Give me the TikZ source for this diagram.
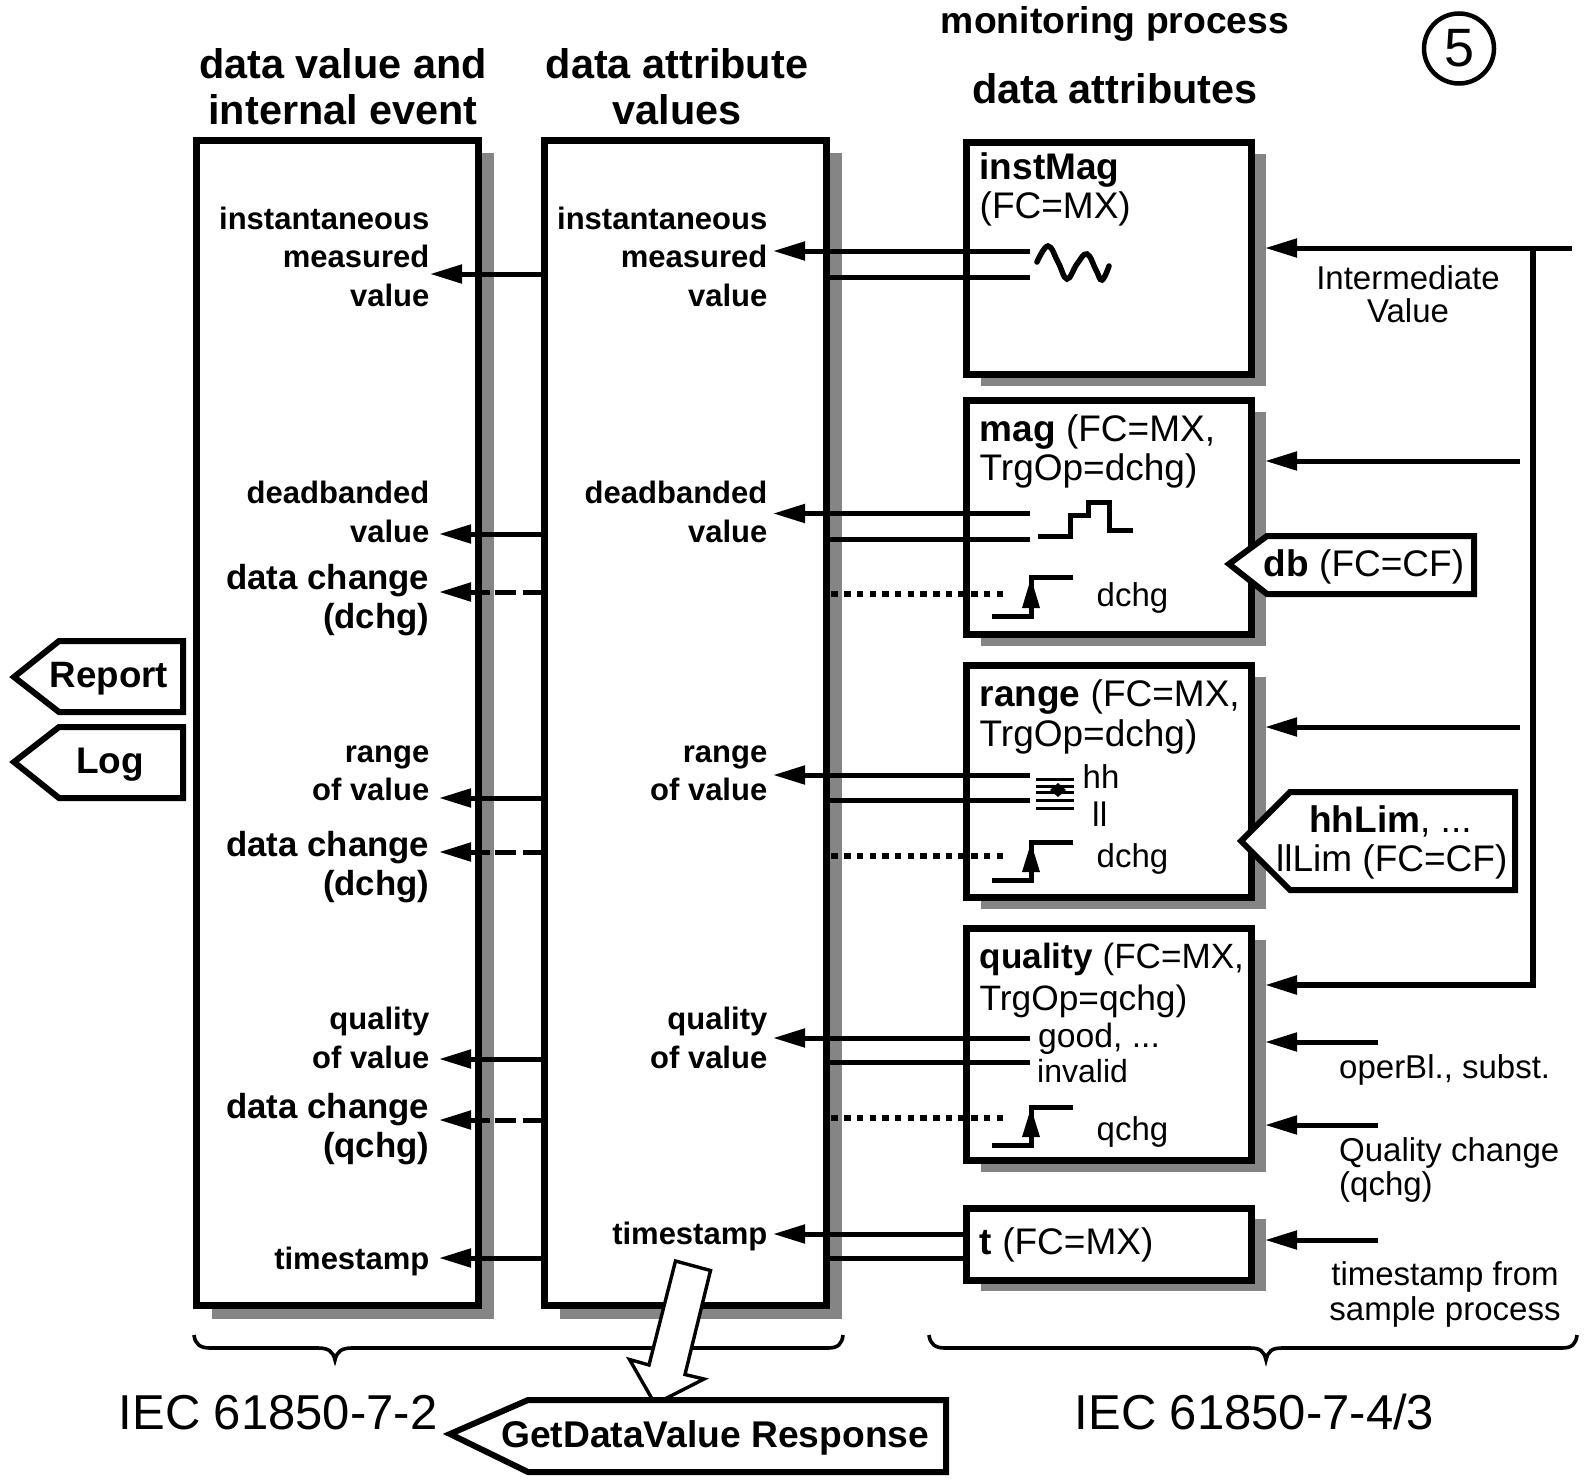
\documentclass[tikz,border=0pt]{standalone}
\usepackage{fontspec}
\setmainfont{Liberation Sans}
\usetikzlibrary{arrows.meta,calc}
\newcommand\fsz[1]{\fontsize{#1}{#1}\selectfont}
\tikzset{
  x=1pt,y=-1pt,
  outbox/.style={draw=black,fill=white,line width=7pt,rectangle,inner sep=0pt,outer sep=0pt},
  shade box/.style={fill=black!48},
  wire/.style={line width=5pt},
  arr/.style={wire,-{Triangle[length=32pt,width=18pt]}},
  dash arr/.style={arr,dash pattern=on 21pt off 7pt on 21pt off 5pt on 100pt off 10pt},
  dots/.style={line width=6.5pt,dash pattern=on 6.5pt off 6.2pt},
  tag/.style={draw=black,fill=white,line width=6pt,miter limit=3},
  lab/.style={anchor=base east,inner sep=0pt,font=\bfseries\fsz{31}},
  labb/.style={anchor=base east,inner sep=0pt,font=\bfseries\fsz{34.8}},
  head/.style={anchor=base,inner sep=0pt,font=\bfseries\fsz{41.4}},
  txt/.style={anchor=base west,inner sep=0pt,font=\fsz{37}},
  small/.style={anchor=base west,inner sep=0pt,font=\fsz{33}},
  smallc/.style={anchor=base,inner sep=0pt,font=\fsz{33}},
  sym/.style={line width=5pt},
  brace/.style={line width=3.6pt}
}
\newcommand\bx[7]{% name,x1,y1,x2,y2,dx,dy
  \fill[shade box] ({#2+#6},{#3+#7}) rectangle ({#4+#6},{#5+#7});
  \node[outbox,minimum width={(#4-#2)*1pt},minimum height={(#5-#3)*1pt}] (#1) at ({(#2+#4)/2},{(#3+#5)/2}) {};
}
\newcommand\stepsym[3]{% name, bottom y, top y
  \coordinate (#1a) at (992,#2);
  \coordinate (#1b) at (1031,#2);
  \coordinate (#1c) at (1031,#3);
  \coordinate (#1d) at (1073,#3);
  \draw[sym] (#1a) -- (#1b) -- (#1c) -- (#1d);
  \fill ($(#1c)+(0,1)$) -- ($(#1b)+(9,-8)$) -- ($(#1b)+(-9,-8)$) -- cycle;
}
\begin{document}
\begin{tikzpicture}
\useasboundingbox (0,0) rectangle (1585,1483);
\fill[white] (0,0) rectangle (1585,1483);

% boxes
\bx{colA}{196}{140}{478}{1305.5}{16}{13}
\bx{colB}{544}{140}{826}{1305.5}{16}{13}
\bx{bInst}{966}{142}{1251}{374}{15}{12}
\bx{bMag}{966}{400}{1251}{634}{15}{12}
\bx{bRange}{966}{665}{1251}{897}{15}{12}
\bx{bQual}{966}{928}{1251}{1160}{15}{12}
\bx{bT}{966}{1208}{1251}{1280}{15}{11}

% column headings
\node[head] (h1) at (343,78.5) {data value and};
\node[head] (h2) at (343,124) {internal event};
\node[head] (h3) at (677,78.5) {data attribute};
\node[head] (h4) at (677,124) {values};
\node[head,font=\bfseries\fsz{37.3}] (h5) at (1115,33) {monitoring process};
\node[head] (h6) at (1115,103) {data attributes};
\node[draw,circle,line width=4.5pt,minimum size=70pt,inner sep=0pt,font=\fsz{54}] (five) at (1459,48.5) {5};

% column labels
\node[lab] (a1) at (429.5,229) {instantaneous};
\node[lab] (a2) at (429.5,267) {measured};
\node[lab] (a3) at (429.5,306) {value};
\node[lab] (a4) at (429.5,503.5) {deadbanded};
\node[lab] (a5) at (429.5,542) {value};
\node[labb] (a6) at (429.5,589) {data change};
\node[labb] (a7) at (429.5,628) {(dchg)};
\node[lab] (a8) at (429.5,762) {range};
\node[lab] (a9) at (429.5,800.5) {of value};
\node[labb] (a10) at (429.5,856) {data change};
\node[labb] (a11) at (429.5,895.5) {(dchg)};
\node[lab] (a12) at (429.5,1029) {quality};
\node[lab] (a13) at (429.5,1068) {of value};
\node[labb] (a14) at (429.5,1118) {data change};
\node[labb] (a15) at (429.5,1157) {(qchg)};
\node[lab] (a16) at (429.5,1269) {timestamp};
\node[lab] (b1) at (767.5,229) {instantaneous};
\node[lab] (b2) at (767.5,267) {measured};
\node[lab] (b3) at (767.5,306) {value};
\node[lab] (b4) at (767.5,503.5) {deadbanded};
\node[lab] (b5) at (767.5,542) {value};
\node[lab] (b8) at (767.5,762) {range};
\node[lab] (b9) at (767.5,800.5) {of value};
\node[lab] (b12) at (767.5,1029) {quality};
\node[lab] (b13) at (767.5,1068) {of value};
\node[lab] (b16) at (767.5,1244) {timestamp};

% box titles
\node[txt] (t1) at (979.5,179) {\bfseries instMag};
\node[txt] (t2) at (979.5,218) {(FC=MX)};
\node[txt] (t3) at (979.5,441) {\textbf{mag} (FC=MX,};
\node[txt] (t4) at (979.5,480) {TrgOp=dchg)};
\node[txt] (t5) at (979.5,706.5) {\textbf{range} (FC=MX,};
\node[txt] (t6) at (979.5,746) {TrgOp=dchg)};
\node[txt,font=\fsz{35.1}] (t7) at (979.5,968) {\textbf{quality} (FC=MX,};
\node[txt,font=\fsz{35.3}] (t8) at (979.5,1010) {TrgOp=qchg)};
\node[txt] (t9) at (979.5,1254) {\textbf{t} (FC=MX)};

% wires column A
\foreach \n/\x/\y in {1/430/274,2/439/534,3/439/798,4/439/1059,5/439/1258}{
  \coordinate (tA\n) at (\x,\y);
  \draw[arr] (colB.west |- tA\n) -- (tA\n);
}
\foreach \n/\y in {1/592,2/852,3/1120}{
  \coordinate (dA\n) at (439,\y);
  \draw[dash arr] (colB.west |- dA\n) -- (dA\n);
}
% wires column B
\foreach \n/\xs/\yu/\yl in {1/1030/251/277,2/1030/513.5/539,3/1030/775/800,4/1030/1038/1062}{
  \coordinate (uS\n) at (\xs,\yu);
  \coordinate (uT\n) at (773,\yu);
  \coordinate (lS\n) at (\xs,\yl);
  \draw[arr] (uS\n) -- (uT\n);
  \draw[wire] (lS\n) -- (colB.east |- lS\n);
}
\coordinate (uT5) at (773,1234);
\draw[arr] (bT.west |- uT5) -- (uT5);
\coordinate (lT5) at (826,1258);
\draw[wire] (bT.west |- lT5) -- (lT5);
\foreach \n/\y in {1/594,2/856,3/1118}{
  \coordinate (dS\n) at (1003,\y);
  \draw[dots] (dS\n) -- (colB.east |- dS\n);
}

% symbols
\draw[line width=5.5pt,line cap=round] plot[smooth,tension=0.7] coordinates {(1037,262) (1048,246) (1058,262) (1067,279) (1077,264) (1087,254) (1096,270) (1102,280) (1109,266)};
\draw[sym] (1038,536) -- (1070,536) -- (1070,515) -- (1088,515) -- (1088,502) -- (1109,502) -- (1109,530) -- (1133,530);
\stepsym{sa}{616}{577}
\stepsym{sb}{880}{842}
\stepsym{sc}{1145}{1107}
\foreach \y in {779,786,792.5,800.5,808.5}{\draw[line width=3pt] (1036,\y) -- (1074,\y);}
\fill (1058,783) -- (1066,790) -- (1058,797) -- (1050,790) -- cycle;
\node[small] (s1) at (1096.5,606) {dchg};
\node[small] (s2) at (1096.5,867) {dchg};
\node[small] (s3) at (1096.5,1140.5) {qchg};
\node[small] (s4) at (1082.5,788) {hh};
\node[small,font=\fsz{34}] (s5) at (1092,826) {ll};
\node[small,font=\fsz{33.7}] (s6) at (1038,1047) {good, ...};
\node[small,font=\fsz{32}] (s7) at (1037,1082) {invalid};

% inputs from the right
\coordinate (in1) at (1265,248);
\coordinate (in1e) at (1572,248);
\coordinate (bus) at (1533,248);
\coordinate (in4) at (1265,985);
\coordinate (busEnd) at (1533,985);
\draw[arr] (in1e) -- (in1);
\draw[line width=6pt] (bus) -- (busEnd);
\draw[arr,line width=5.5pt] ($(busEnd)+(3,0)$) -- (in4);
\foreach \n/\xs/\y in {2/1520/461,3/1520/727,5/1378/1042,6/1378/1125,7/1378/1240}{
  \coordinate (inS\n) at (\xs,\y);
  \coordinate (inT\n) at (1265,\y);
  \draw[arr] (inS\n) -- (inT\n);
}
\node[smallc] (n1) at (1408,289) {Intermediate};
\node[smallc] (n2) at (1408,322) {Value};
\node[small] (n3) at (1339,1078) {operBl., subst.};
\node[small] (n4) at (1339,1161) {Quality change};
\node[small] (n5) at (1339,1195) {(qchg)};
\node[smallc] (n6) at (1445,1285) {timestamp from};
\node[smallc] (n7) at (1445,1320) {sample process};

% tags
\draw[tag] (1229,564) -- (1267,536) -- (1474,536) -- (1474,594) -- (1267,594) -- cycle;
\node[txt] (db) at (1263.5,576) {\textbf{db} (FC=CF)};
\draw[tag] (1241,841) -- (1290,792) -- (1515,792) -- (1515,890) -- (1290,890) -- cycle;
\node[txt] (hh) at (1309,832) {\textbf{hhLim}, ...};
\node[txt] (ll) at (1276,871) {llLim (FC=CF)};
\draw[tag] (14,677) -- (59,641) -- (183,641) -- (183,712) -- (59,712) -- cycle;
\node[txt,font=\bfseries\fsz{36.7}] (rep) at (49.5,687) {Report};
\draw[tag] (14,762) -- (59,727) -- (183,727) -- (183,798) -- (59,798) -- cycle;
\node[txt,font=\bfseries\fsz{37}] (log) at (76,773) {Log};

% braces
\draw[brace] (194,1335) .. controls (195,1344) and (200,1348) .. (210,1348) -- (318,1348) .. controls (328,1348) and (333,1351) .. (335,1360) .. controls (337,1351) and (342,1348) .. (352,1348) -- (828,1348) .. controls (838,1348) and (842,1344) .. (843,1335);
\draw[brace] (929,1335) .. controls (930,1344) and (935,1348) .. (945,1348) -- (1250,1348) .. controls (1260,1348) and (1264,1351) .. (1266,1360) .. controls (1268,1351) and (1272,1348) .. (1282,1348) -- (1562,1348) .. controls (1572,1348) and (1576,1344) .. (1577,1335);

\node[anchor=base west,inner sep=0pt,font=\fsz{49}] (iec1) at (118.5,1429) {IEC 61850-7-2};
\node[anchor=base west,inner sep=0pt,font=\fsz{49}] (iec2) at (1074.5,1429) {IEC 61850-7-4/3};

% response
\draw[fill=white,line width=3.4pt] (675.5,1261) -- (710.5,1270.5) -- (685,1374.5) -- (704,1379) -- (655,1404) -- (629.5,1359.5) -- (649,1365) -- cycle;
\draw[tag] (450,1434) -- (528,1400) -- (946,1400) -- (946,1472) -- (528,1472) -- cycle;
\node[txt,font=\bfseries\fsz{37.2}] (resp) at (501,1447) {GetDataValue Response};
\end{tikzpicture}
\end{document}
